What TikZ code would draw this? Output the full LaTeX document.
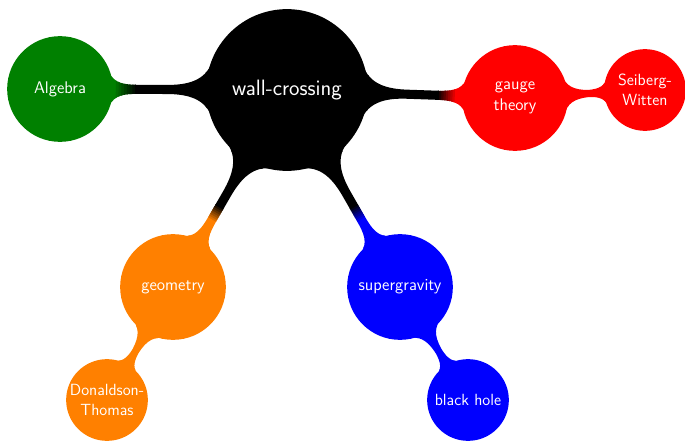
\documentclass[tikz,border=0pt]{standalone}
\usetikzlibrary{mindmap,calc}
\newcommand{\mmbar}[5]{% #1 parent, #2 child, #3 child colour, #4 d1 (cm), #5 d2 (cm)
  \foreach \k in {0,...,8}{
    \pgfmathsetmacro{\da}{ifthenelse(\k==0,0,#4+(#5-#4)*\k/8)}
    \pgfmathsetmacro{\db}{ifthenelse(\k==8,9,#4+(#5-#4)*(\k+1)/8+0.03)}
    \pgfmathtruncatemacro{\pc}{100-100*\k/8}
    \begin{scope}
      \clip ($(#2.center)!\da cm!(#1.center)!4cm!90:(#1.center)$) --
            ($(#2.center)!\da cm!(#1.center)!4cm!-90:(#1.center)$) --
            ($(#2.center)!\db cm!(#1.center)!4cm!-90:(#1.center)$) --
            ($(#2.center)!\db cm!(#1.center)!4cm!90:(#1.center)$) -- cycle;
      \path (#1) to[circle connection bar switch color=from (#3!\pc!black) to (#3!\pc!black)] (#2);
    \end{scope}
  }
}
\begin{document}
\begin{tikzpicture}[x=0.025cm,y=0.025cm, mindmap, text=white]
\useasboundingbox (0,0) rectangle (685,442);
\tikzset{
  rootc/.style={concept, circle, minimum size=4cm, text width=3.4cm, inner sep=0pt, align=center, font=\sffamily\fontsize{15.8}{18}\selectfont},
  lvlone/.style={concept, circle, minimum size=2.6cm, text width=2.2cm, inner sep=0pt, align=center, font=\sffamily\fontsize{12}{15}\selectfont},
  lvltwo/.style={concept, circle, minimum size=2cm, text width=1.5cm, inner sep=0pt, align=center, font=\sffamily\fontsize{11.5}{14}\selectfont},
}
\node[concept color=black, rootc, fill=black] (root) at (287,352) {wall-crossing};
\node[concept color=green!50!black, lvlone, fill=green!50!black] (alg) at (60,353) {Algebra};
\node[concept color=red, lvlone, fill=red] (gauge) at (515,344) {gauge\\theory};
\node[concept color=red, lvltwo, fill=red] (sw) at (645,352) {Seiberg-\\Witten};
\node[concept color=orange, lvlone, fill=orange] (geo) at (173,155) {geometry};
\node[concept color=orange, lvltwo, fill=orange] (dt) at (107,42) {\makebox[1.5cm]{Donaldson-}\\Thomas};
\node[concept color=blue, lvlone, fill=blue] (sugra) at (400,155) {supergravity};
\node[concept color=blue, lvltwo, fill=blue] (bh) at (468,42) {\makebox[1.5cm]{black hole}};
\mmbar{root}{alg}{green!50!black}{1.325}{1.875}
\mmbar{root}{gauge}{red}{1.45}{1.9}
\mmbar{root}{geo}{orange}{1.9}{2.3}
\mmbar{root}{sugra}{blue}{1.9}{2.3}
\path (gauge) to[circle connection bar switch color=from (red) to (red)] (sw);
\path (geo) to[circle connection bar switch color=from (orange) to (orange)] (dt);
\path (sugra) to[circle connection bar switch color=from (blue) to (blue)] (bh);
\end{tikzpicture}
\end{document}
